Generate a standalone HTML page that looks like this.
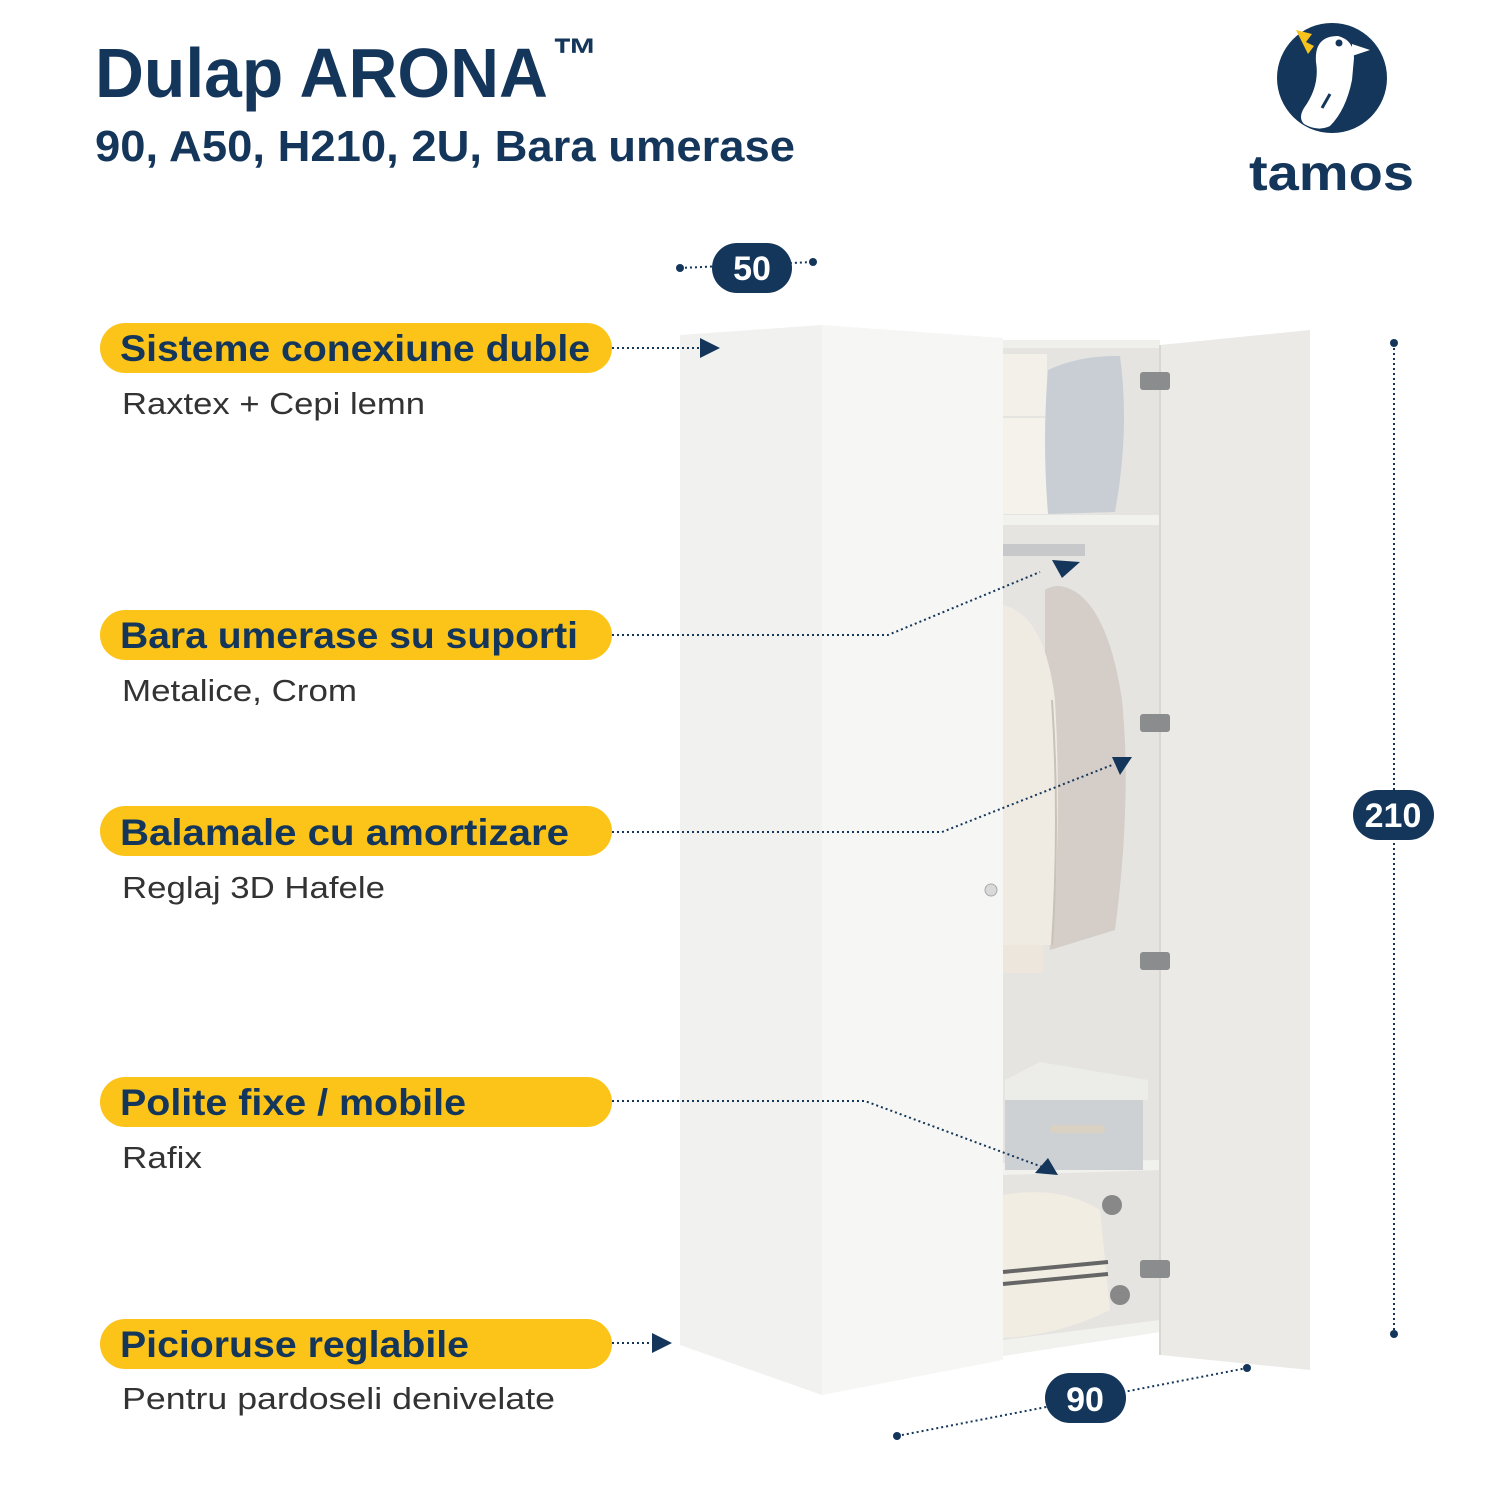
<!DOCTYPE html>
<html><head><meta charset="utf-8"><style>html,body{margin:0;padding:0;background:#fff}svg{display:block}</style></head>
<body>
<svg width="1500" height="1500" viewBox="0 0 1500 1500" xmlns="http://www.w3.org/2000/svg" font-family="Liberation Sans, sans-serif">
<rect width="1500" height="1500" fill="#fff"/>
<text x="95" y="97" font-size="70" font-weight="bold" fill="#14365a" textLength="453" lengthAdjust="spacingAndGlyphs">Dulap ARONA</text>
<text x="552" y="70" font-size="46" font-weight="bold" fill="#14365a">™</text>
<text x="95" y="161" font-size="44" font-weight="bold" fill="#14365a" textLength="700" lengthAdjust="spacingAndGlyphs">90, A50, H210, 2U, Bara umerase</text>
<circle cx="1332" cy="78" r="55" fill="#14365a"/>
<path d="M1316 62 Q1314 36 1338 36 Q1354 40 1354 58 L1352 80 Q1346 110 1330 126 Q1318 132 1304 124 Q1298 118 1304 108 Q1320 86 1316 62 Z" fill="#fff"/>
<path d="M1352 44 L1370 50 L1352 56 Z" fill="#fff"/>
<path d="M1296 30 L1312 34 L1306 42 L1314 46 L1308 54 L1302 42 Z" fill="#f7c21c"/>
<circle cx="1339" cy="43" r="3.5" fill="#14365a"/>
<line x1="1322" y1="108" x2="1330" y2="94" stroke="#14365a" stroke-width="3"/>
<text x="1249" y="190" font-size="50" font-weight="bold" fill="#14365a" textLength="165" lengthAdjust="spacingAndGlyphs">tamos</text>
<polygon points="680,335 822,325 822,1395 680,1345" fill="#f1f1ef"/>
<polygon points="822,325 1003,338 1003,1360 822,1395" fill="#f6f6f4"/>
<polygon points="1003,340 1160,347 1160,1330 1003,1355" fill="#e5e4e1"/>
<rect x="1003" y="340" width="157" height="8" fill="#efefec"/>
<rect x="1003" y="515" width="157" height="10" fill="#f1f1ee"/>
<polygon points="1003,1163 1160,1160 1160,1170 1003,1175" fill="#f1f1ee"/>
<polygon points="1003,1340 1160,1320 1160,1332 1003,1356" fill="#f1f1ee"/>
<polygon points="1160,345 1310,330 1310,1370 1160,1355" fill="#ebeae7"/>
<line x1="1160" y1="345" x2="1160" y2="1355" stroke="#d8d7d3" stroke-width="2"/>
<rect x="1003" y="354" width="44" height="62" fill="#f3f0ea"/>
<rect x="1003" y="418" width="48" height="96" fill="#f5f2ec"/>
<path d="M1048 370 Q1080 355 1120 356 Q1130 430 1115 512 L1048 514 Q1042 440 1048 370 Z" fill="#c9ced4"/>
<rect x="1003" y="544" width="82" height="12" fill="#c6c8ca"/>
<path d="M1045 590 Q1060 580 1080 595 Q1110 620 1122 700 Q1132 800 1115 930 L1050 950 Q1040 800 1045 700 Z" fill="#d4cdc8"/>
<path d="M1003 605 Q1045 615 1055 700 Q1062 820 1052 945 L1003 945 Z" fill="#efebe3"/>
<path d="M1052 700 Q1060 820 1052 945" stroke="#c8c2b8" stroke-width="2" fill="none"/>
<rect x="1003" y="945" width="40" height="28" fill="#ece6dc"/>
<polygon points="1005,1080 1040,1062 1148,1080 1148,1100 1005,1100" fill="#ecece9"/>
<rect x="1005" y="1100" width="138" height="70" fill="#ced1d4"/>
<rect x="1050" y="1125" width="55" height="8" rx="4" fill="#d9d2c3"/>
<path d="M1003 1195 Q1060 1185 1100 1210 L1110 1310 Q1060 1335 1003 1338 Z" fill="#f2ede2"/>
<path d="M1003 1272 L1108 1262 M1003 1284 L1108 1274" stroke="#666" stroke-width="4"/>
<circle cx="1112" cy="1205" r="10" fill="#888"/><circle cx="1120" cy="1295" r="10" fill="#888"/>
<g fill="#8a8c8e">
<rect x="1140" y="372" width="30" height="18" rx="3"/><rect x="1140" y="714" width="30" height="18" rx="3"/><rect x="1140" y="952" width="30" height="18" rx="3"/><rect x="1140" y="1260" width="30" height="18" rx="3"/>
</g>
<circle cx="991" cy="890" r="6" fill="#d9d9d9" stroke="#aaa"/>
<g fill="#14365a">
<circle cx="680" cy="268" r="4"/><circle cx="813" cy="262" r="4"/>
<circle cx="1394" cy="343" r="4"/><circle cx="1394" cy="1334" r="4"/>
<circle cx="897" cy="1436" r="4"/><circle cx="1247" cy="1368" r="4"/>
</g>
<g stroke="#14365a" stroke-width="2" stroke-dasharray="2,3" fill="none">
<line x1="680" y1="268" x2="813" y2="262"/>
<line x1="1394" y1="343" x2="1394" y2="1334"/>
<line x1="897" y1="1436" x2="1247" y2="1368"/>
<polyline points="612,348 700,348"/>
<polyline points="612,635 888,635 1040,572"/>
<polyline points="612,832 942,832 1112,765"/>
<polyline points="612,1101 865,1101 1045,1168"/>
<polyline points="612,1343 652,1343"/>
</g>
<g fill="#14365a">
<polygon points="700,338 720,348 700,358"/>
<polygon points="652,1333 672,1343 652,1353"/>
<polygon points="1052,560 1080,562 1062,578"/>
<polygon points="1112,757 1132,757 1120,775"/>
<polygon points="1035,1173 1058,1175 1048,1158"/>
<rect x="712" y="243" width="80" height="50" rx="25"/>
<rect x="1353" y="790" width="81" height="50" rx="25"/>
<rect x="1045" y="1373" width="81" height="50" rx="25"/>
</g>
<g fill="#fff" font-size="34" font-weight="bold" text-anchor="middle">
<text x="752" y="280">50</text><text x="1393" y="827">210</text><text x="1085" y="1411">90</text>
</g>
<g fill="#fcc419">
<rect x="100" y="323" width="512" height="50" rx="25"/>
<rect x="100" y="610" width="512" height="50" rx="25"/>
<rect x="100" y="806" width="512" height="50" rx="25"/>
<rect x="100" y="1077" width="512" height="50" rx="25"/>
<rect x="100" y="1319" width="512" height="50" rx="25"/>
</g>
<g fill="#14365a" font-size="37" font-weight="bold">
<text x="120" y="361" textLength="470" lengthAdjust="spacingAndGlyphs">Sisteme conexiune duble</text>
<text x="120" y="648" textLength="458" lengthAdjust="spacingAndGlyphs">Bara umerase su suporti</text>
<text x="120" y="845" textLength="449" lengthAdjust="spacingAndGlyphs">Balamale cu amortizare</text>
<text x="120" y="1115" textLength="346" lengthAdjust="spacingAndGlyphs">Polite fixe / mobile</text>
<text x="120" y="1357" textLength="349" lengthAdjust="spacingAndGlyphs">Picioruse reglabile</text>
</g>
<g fill="#333" font-size="31">
<text x="122" y="414" textLength="303" lengthAdjust="spacingAndGlyphs">Raxtex + Cepi lemn</text>
<text x="122" y="701" textLength="235" lengthAdjust="spacingAndGlyphs">Metalice, Crom</text>
<text x="122" y="898" textLength="263" lengthAdjust="spacingAndGlyphs">Reglaj 3D Hafele</text>
<text x="122" y="1168" textLength="80" lengthAdjust="spacingAndGlyphs">Rafix</text>
<text x="122" y="1409" textLength="433" lengthAdjust="spacingAndGlyphs">Pentru pardoseli denivelate</text>
</g>
</svg>
</body></html>
